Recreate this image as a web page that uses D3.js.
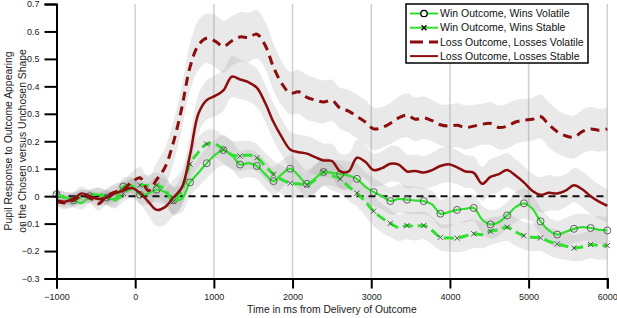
<!DOCTYPE html>
<html>
<head>
<meta charset="utf-8">
<script src="https://cdn.jsdelivr.net/npm/d3@7"></script>
<style>
  body { margin: 0; background: #fff; }
  svg { display: block; font-family: "Liberation Sans", Arial, sans-serif; }
</style>
</head>
<body>
<script>
// time axis: 67 samples from -1000 to 6000 ms (markers on every 2nd sample)
const time = d3.range(67).map(i => -1000 + i * 7000 / 66);

// mean pupil response per condition
const winVolatile = [0.007,-0.005,-0.015,-0.025,0.0,0.005,-0.005,-0.01,0.035,0.04,
  0.005,0.01,0.024,0.015,-0.015,-0.01,0.05,0.085,0.12,0.15,
  0.168,0.15,0.115,0.12,0.11,0.08,0.055,0.08,0.1,0.075,
  0.045,0.065,0.088,0.085,0.08,0.075,0.063,0.035,0.015,0.0,
  -0.018,-0.01,-0.013,-0.016,-0.018,-0.03,-0.064,-0.058,-0.05,-0.046,
  -0.043,-0.085,-0.103,-0.095,-0.07,-0.04,-0.026,-0.045,-0.092,-0.125,
  -0.14,-0.13,-0.119,-0.113,-0.116,-0.123,-0.125];
const winStable = [0.005,-0.005,-0.01,-0.005,0.0,0.01,-0.005,-0.015,0.01,0.03,
  0.04,0.038,0.04,0.025,-0.02,0.02,0.117,0.16,0.19,0.19,
  0.17,0.15,0.146,0.15,0.14,0.11,0.08,0.06,0.047,0.045,
  0.04,0.06,0.088,0.075,0.063,0.035,0.011,-0.02,-0.055,-0.08,
  -0.099,-0.115,-0.107,-0.11,-0.107,-0.125,-0.15,-0.152,-0.153,-0.145,
  -0.137,-0.14,-0.128,-0.122,-0.113,-0.13,-0.144,-0.15,-0.152,-0.165,
  -0.174,-0.182,-0.189,-0.185,-0.176,-0.18,-0.18];
const lossVolatile = [-0.02,-0.025,-0.015,0.0,-0.005,-0.028,0.0,0.015,0.025,0.05,
  0.067,0.02,0.06,0.105,0.195,0.32,0.47,0.55,0.575,0.565,
  0.545,0.565,0.58,0.578,0.59,0.55,0.47,0.41,0.375,0.38,
  0.36,0.35,0.343,0.349,0.32,0.31,0.29,0.27,0.245,0.25,
  0.265,0.285,0.295,0.28,0.285,0.275,0.26,0.255,0.258,0.25,
  0.255,0.262,0.265,0.25,0.255,0.27,0.277,0.28,0.29,0.26,
  0.235,0.22,0.215,0.235,0.245,0.24,0.245];
const lossStable = [-0.015,-0.02,-0.01,0.01,0.0,-0.01,-0.005,0.01,0.02,0.03,
  0.012,-0.02,-0.05,-0.04,-0.005,0.03,0.15,0.3,0.35,0.365,
  0.385,0.435,0.425,0.415,0.395,0.34,0.27,0.215,0.17,0.16,
  0.155,0.142,0.13,0.128,0.09,0.09,0.14,0.125,0.095,0.102,
  0.118,0.115,0.09,0.092,0.086,0.095,0.11,0.116,0.105,0.09,
  0.085,0.045,0.07,0.08,0.095,0.075,0.05,0.02,0.005,0.012,
  0.01,0.02,0.04,0.025,0.0,-0.02,-0.035];

// standard error (half width of the shaded bands)
const seWinVolatile = [0.02,0.022,0.025,0.024,0.022,0.025,0.027,0.03,0.032,0.03,
  0.035,0.04,0.045,0.048,0.05,0.05,0.05,0.052,0.055,0.055,
  0.055,0.052,0.05,0.05,0.048,0.05,0.052,0.05,0.048,0.05,
  0.05,0.052,0.05,0.048,0.05,0.052,0.055,0.055,0.05,0.048,
  0.05,0.052,0.05,0.05,0.048,0.05,0.052,0.055,0.05,0.05,
  0.048,0.05,0.052,0.05,0.05,0.055,0.055,0.05,0.05,0.048,
  0.05,0.05,0.052,0.05,0.048,0.05,0.05];
const seWinStable = [0.022,0.02,0.024,0.026,0.024,0.022,0.026,0.03,0.03,0.032,
  0.035,0.04,0.045,0.05,0.052,0.055,0.055,0.055,0.052,0.05,
  0.05,0.052,0.055,0.052,0.05,0.048,0.05,0.052,0.05,0.05,
  0.048,0.05,0.052,0.055,0.052,0.05,0.05,0.052,0.055,0.052,
  0.05,0.048,0.05,0.052,0.05,0.05,0.048,0.05,0.052,0.055,
  0.052,0.05,0.05,0.048,0.05,0.052,0.05,0.05,0.048,0.05,
  0.052,0.05,0.048,0.05,0.05,0.052,0.05];
const seLossVolatile = [0.02,0.022,0.025,0.025,0.022,0.025,0.028,0.03,0.032,0.035,
  0.04,0.05,0.06,0.07,0.075,0.08,0.085,0.09,0.09,0.095,
  0.095,0.09,0.09,0.09,0.088,0.085,0.085,0.08,0.078,0.08,
  0.082,0.08,0.078,0.075,0.075,0.078,0.08,0.08,0.078,0.075,
  0.075,0.078,0.08,0.08,0.078,0.075,0.075,0.078,0.08,0.08,
  0.078,0.075,0.078,0.08,0.082,0.08,0.078,0.078,0.08,0.082,
  0.08,0.078,0.078,0.08,0.08,0.078,0.078];
const seLossStable = [0.02,0.022,0.024,0.025,0.022,0.025,0.028,0.03,0.03,0.035,
  0.04,0.05,0.06,0.065,0.065,0.065,0.07,0.07,0.072,0.075,
  0.075,0.075,0.072,0.07,0.07,0.068,0.068,0.065,0.065,0.065,
  0.065,0.065,0.062,0.062,0.065,0.065,0.065,0.062,0.06,0.062,
  0.065,0.065,0.062,0.06,0.06,0.062,0.065,0.065,0.062,0.06,
  0.06,0.062,0.065,0.065,0.062,0.06,0.06,0.062,0.065,0.065,
  0.062,0.06,0.062,0.065,0.065,0.062,0.06];

const xTicks = [-1000, 0, 1000, 2000, 3000, 4000, 5000, 6000];
const yTicks = [-0.3, -0.2, -0.1, 0, 0.1, 0.2, 0.3, 0.4, 0.5, 0.6, 0.7];

const series = [
  { name: "Win Outcome, Wins Volatile", mean: winVolatile, se: seWinVolatile, color: "#2fe02f", width: 2.2, dash: null, marker: "circle" },
  { name: "Win Outcome, Wins Stable", mean: winStable, se: seWinStable, color: "#2fe02f", width: 3, dash: "10,5", marker: "x" },
  { name: "Loss Outcome, Losses Volatile", mean: lossVolatile, se: seLossVolatile, color: "#8b0d0d", width: 3, dash: "9,6", marker: null },
  { name: "Loss Outcome, Losses Stable", mean: lossStable, se: seLossStable, color: "#8b0d0d", width: 2.5, dash: null, marker: null }
];

const width = 617, height = 318;
const svg = d3.select("body").append("svg")
    .attr("width", width)
    .attr("height", height);

const x = d3.scaleLinear().domain([-1000, 6000]).range([56.5, 607.3]);
const y = d3.scaleLinear().domain([-0.3, 0.7]).range([278.5, 4]);

// vertical grid lines
svg.append("g").selectAll("line")
    .data(xTicks.filter(t => t >= 0))
    .enter().append("line")
    .attr("x1", d => x(d)).attr("x2", d => x(d))
    .attr("y1", y(0.7)).attr("y2", y(-0.3))
    .attr("stroke", "#d0d0d0")
    .attr("stroke-width", 1.5);

// shaded error bands
const band = d3.area()
    .x((d, i) => x(time[i]))
    .y0(d => y(d[0] - d[1]))
    .y1(d => y(d[0] + d[1]))
    .curve(d3.curveCatmullRom);

svg.append("g").selectAll("path")
    .data(series)
    .enter().append("path")
    .attr("d", s => band(s.mean.map((m, i) => [m, s.se[i]])))
    .attr("fill", "#999")
    .attr("fill-opacity", 0.22);

// zero reference line
svg.append("line")
    .attr("x1", x(-1000)).attr("x2", x(6000))
    .attr("y1", y(0)).attr("y2", y(0))
    .attr("stroke", "#111")
    .attr("stroke-width", 2)
    .attr("stroke-dasharray", "7,5");

const line = d3.line()
    .x((d, i) => x(time[i]))
    .y(d => y(d))
    .curve(d3.curveCatmullRom);

series.forEach(s => {
    svg.append("path")
        .attr("d", line(s.mean))
        .attr("fill", "none")
        .attr("stroke", s.color)
        .attr("stroke-width", s.width)
        .attr("stroke-dasharray", s.dash)
        .attr("stroke-linejoin", "round");

    if (!s.marker) return;
    const pts = s.mean.map((m, i) => [time[i], m]).filter((d, i) => i % 2 === 0);
    const g = svg.append("g");
    if (s.marker === "circle") {
        g.selectAll("circle").data(pts).enter().append("circle")
            .attr("cx", d => x(d[0])).attr("cy", d => y(d[1]))
            .attr("r", 3.5)
            .attr("fill", "none")
            .attr("stroke", "#555")
            .attr("stroke-width", 0.9);
    } else {
        g.selectAll("path").data(pts).enter().append("path")
            .attr("d", d => {
                const cx = x(d[0]), cy = y(d[1]), r = 2.6;
                return `M${cx - r},${cy - r}L${cx + r},${cy + r}M${cx - r},${cy + r}L${cx + r},${cy - r}`;
            })
            .attr("stroke", "#555")
            .attr("stroke-width", 1);
    }
});

// axes
const yAxis = svg.append("g").attr("transform", `translate(${x(-1000)},0)`)
    .call(d3.axisLeft(y).tickValues(yTicks).tickSize(12).tickPadding(5)
        .tickFormat(d => d === 0 ? "0" : d3.format(".1f")(d)));
const xAxis = svg.append("g").attr("transform", `translate(0,${y(-0.3)})`)
    .call(d3.axisBottom(x).tickValues(xTicks).tickSize(10).tickPadding(5)
        .tickFormat(d3.format("d")));

[yAxis, xAxis].forEach(a => {
    a.select(".domain").attr("stroke", "#000").attr("stroke-width", 2);
    a.selectAll(".tick line").attr("stroke", "#000").attr("stroke-width", 2);
    a.selectAll(".tick text").attr("font-size", 9).attr("fill", "#222")
        .attr("font-family", "Liberation Sans, Arial, sans-serif");
});

svg.append("text")
    .attr("x", (x(-1000) + x(6000)) / 2)
    .attr("y", 313)
    .attr("text-anchor", "middle")
    .attr("font-size", 10.3)
    .attr("fill", "#222")
    .text("Time in ms from Delivery of Outcome");

const yTitle = svg.append("text")
    .attr("transform", "translate(12,141) rotate(-90)")
    .attr("text-anchor", "middle")
    .attr("font-size", 10.4)
    .attr("fill", "#222");
yTitle.append("tspan").attr("x", 0).attr("y", 0).text("Pupil Response to Outcome Appearing");
yTitle.append("tspan").attr("x", 0).attr("y", 14).text("on the Chosen versus Unchosen Shape");

// legend
const legend = svg.append("g");
legend.append("rect")
    .attr("x", 406).attr("y", 4)
    .attr("width", 182).attr("height", 59)
    .attr("fill", "#fff")
    .attr("stroke", "#000")
    .attr("stroke-width", 1.5);

series.forEach((s, i) => {
    const ly = 13.5 + i * 14.2;
    legend.append("line")
        .attr("x1", 410).attr("x2", 438)
        .attr("y1", ly).attr("y2", ly)
        .attr("stroke", s.color)
        .attr("stroke-width", s.dash && s.marker === null ? 3 : 2)
        .attr("stroke-dasharray", s.marker === null && s.dash ? "13,6" : null);
    if (s.marker === "circle") {
        legend.append("circle").attr("cx", 424).attr("cy", ly).attr("r", 3.2)
            .attr("fill", "#fff").attr("stroke", "#000").attr("stroke-width", 1.3);
    } else if (s.marker === "x") {
        legend.append("path")
            .attr("d", `M421.5,${ly - 2.5}L426.5,${ly + 2.5}M421.5,${ly + 2.5}L426.5,${ly - 2.5}`)
            .attr("stroke", "#000").attr("stroke-width", 1.3);
    }
    legend.append("text")
        .attr("x", 440).attr("y", ly)
        .attr("dy", "0.35em")
        .attr("font-size", 10.5)
        .attr("fill", "#111")
        .text(s.name);
});
</script>
</body>
</html>
